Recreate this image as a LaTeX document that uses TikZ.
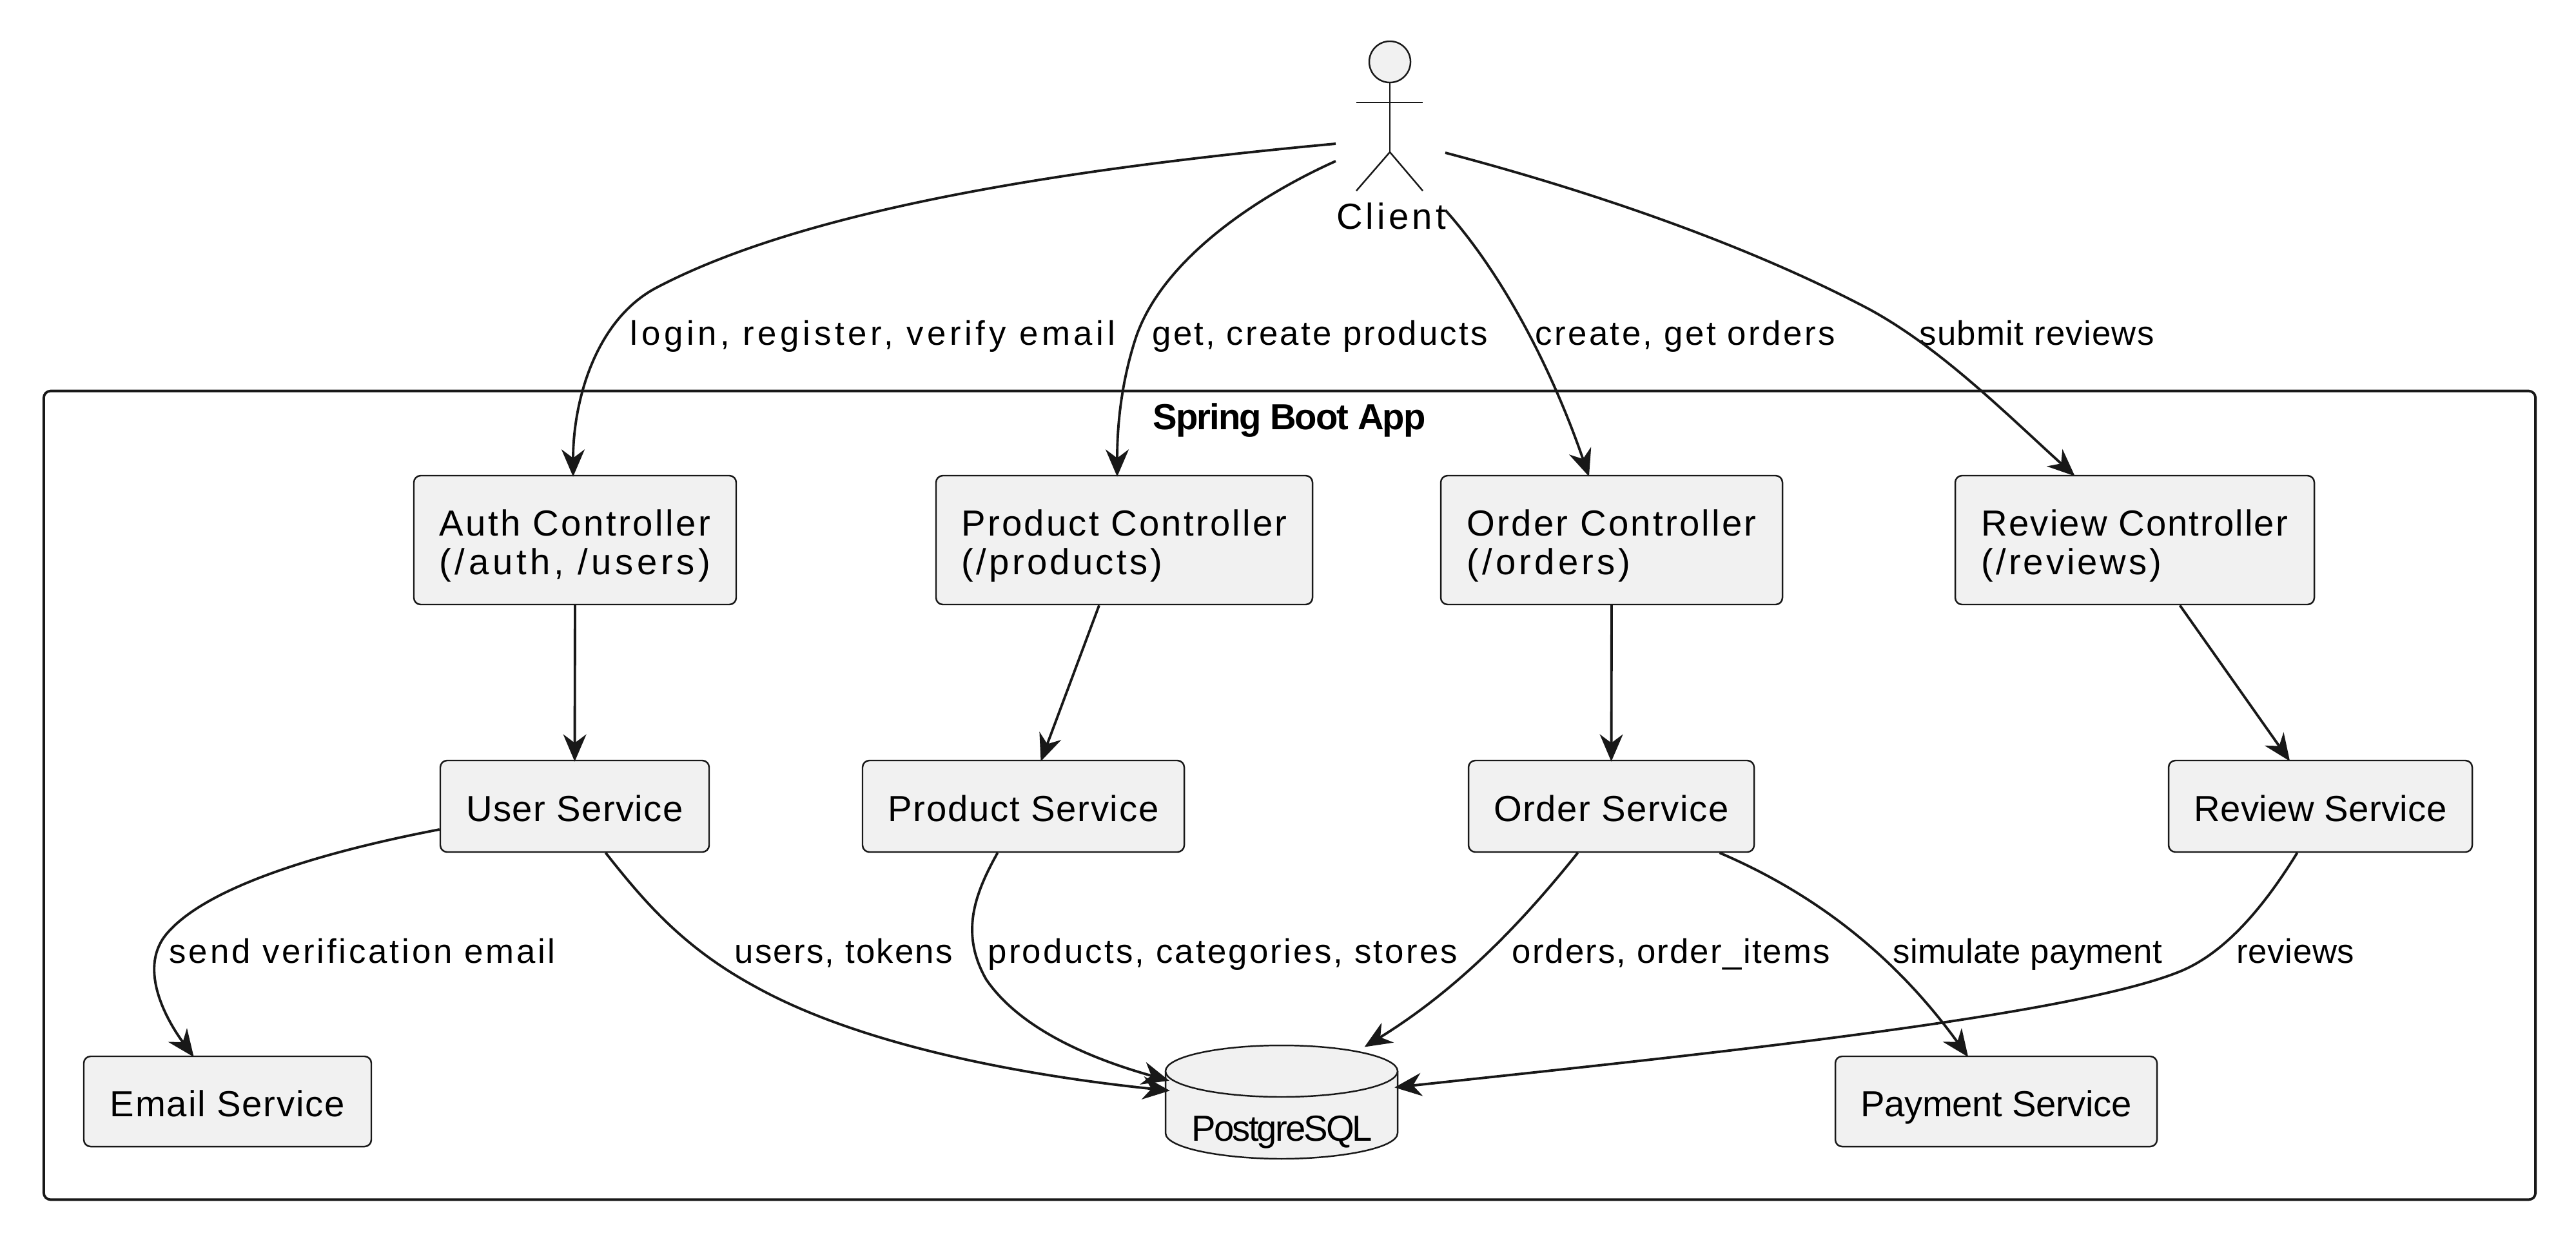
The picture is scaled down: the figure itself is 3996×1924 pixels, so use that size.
\documentclass[tikz,border=0pt]{standalone}
\usepackage{fontspec}
\setmainfont{Liberation Sans}
\usetikzlibrary{arrows.meta,calc}
\definecolor{ink}{HTML}{181818}
\definecolor{boxfill}{HTML}{F1F1F1}
\newcommand{\ls}[2]{{\addfontfeature{LetterSpace=#1}\rule[-1.6pt]{0pt}{16.6pt}\smash{#2}}}
\tikzset{
  >={Stealth[length=12pt,width=10.2pt,inset=3.8pt]},
  part/.style={draw=ink, fill=boxfill, line width=0.7pt, rounded corners=3pt, inner sep=0pt, align=left,
               font=\fontsize{16}{17.2}\selectfont},
  flow/.style={->, line width=1.1pt, draw=ink, shorten >=-0.8pt},
  lab/.style={font=\fontsize{15}{18}\selectfont, text=black, inner sep=0pt, anchor=base west},
  actor/.style={draw=ink, line width=0.7pt},
  frame/.style={draw=ink, line width=1.1pt, rounded corners=3pt},
}
\def\appBoxes{auth/892/838/500/200/{\ls{6.2}{Auth Controller}\\\ls{10.1}{(/auth, /users)}},
  prodctl/1744/838/584/200/{\ls{5.7}{Product Controller}\\\ls{7.6}{(/products)}},
  orderctl/2500/838/530/200/{\ls{5.8}{Order Controller}\\\ls{9.2}{(/orders)}},
  reviewctl/3311.5/838/557/200/{\ls{3.7}{Review Controller}\\\ls{7}{(/reviews)}},
  user/891.5/1251/417/142/{\ls{2.6}{User Service}},
  prodsrv/1587.5/1251/499/142/{\ls{3.1}{Product Service}},
  ordersrv/2499.5/1251/443/142/{\ls{2.8}{Order Service}},
  reviewsrv/3599.5/1251/471/142/{\ls{0.6}{Review Service}},
  email/353/1709/446/140/{\ls{3.3}{Email Service}},
  payment/3096.5/1709/499/140/{\ls{-0.6}{Payment Service}}}
\def\edgeLabels{977/535/10.8/{login, register, verify email},
  1787/535/6.0/{get, create products},
  2381/535/6.5/{create, get orders},
  2977/535/2.4/{submit reviews},
  262/1494/7.3/{send verification email},
  1139/1494/4.2/{users, tokens},
  1532/1494/6.1/{products, categories, stores},
  2345/1494/4.0/{orders, order\_items},
  2936/1494/0.5/{simulate payment},
  3469/1494/1.2/{reviews}}

\begin{document}
\begin{tikzpicture}[x=0.01cm, y=-0.01cm]
  \useasboundingbox (0,0) rectangle (3996,1924);
  \node[frame, minimum width=38.63cm, minimum height=12.54cm] (app) at (2000.5,1234) {};
  \node[font=\bfseries\fontsize{16}{18}\selectfont, anchor=base] (apptitle) at (2000,666) {\ls{-3.6}{Spring Boot App}};

  % actor
  \node[actor, circle, fill=boxfill, minimum size=0.64cm, inner sep=0pt] (head) at (2156,96) {};
  \coordinate (hip) at (2156,236);
  \draw[actor] (head.south) -- (hip);
  \draw[actor] (2104,159) -- (2207,159);
  \draw[actor] (2104,296) -- (hip) -- (2207,296);
  \node[font=\fontsize{16}{18}\selectfont, anchor=base, inner sep=0pt] (client) at (2158,355) {\ls{9.2}{Client}};

  % database
  \draw[actor, fill=boxfill] (1808,1662) -- (1808,1758) .. controls (1808,1782) and (1900,1798) .. (1988,1798)
    .. controls (2076,1798) and (2168,1782) .. (2168,1758) -- (2168,1662);
  \draw[actor, fill=boxfill] (1988,1662) ellipse [x radius=180, y radius=40];
  \node[font=\fontsize{16}{18}\selectfont, anchor=base, inner sep=0pt] (db) at (1989,1770) {\ls{-5.2}{PostgreSQL}};
  \coordinate (dbleftA) at (1811,1676);
  \coordinate (dbleftB) at (1812,1692);
  \coordinate (dbtop) at (2119,1623);
  \coordinate (dbright) at (2166,1687);

  \foreach \n/\x/\y/\w/\h/\t in \appBoxes {
    \node[part, minimum width=\w*0.01cm, minimum height=\h*0.01cm] (\n) at (\x,\y) {\t};
  }
  \foreach \x/\y/\s/\t in \edgeLabels {
    \node[lab] at (\x,\y) {\ls{\s}{\t}};
  }

  % client to controllers
  \coordinate (clientA) at (2072,223);
  \coordinate (clientB) at (2072,250);
  \coordinate (clientC) at (2242,326);
  \coordinate (clientD) at (2242,237);
  \draw[flow] (clientA) .. controls (1650,262) and (1250,325) .. (1019,446)
    .. controls (925,495) and (889,620) .. ($(auth.north)+(-3,0)$);
  \draw[flow] (clientB) .. controls (1960,300) and (1800,400) .. (1760,530)
    .. controls (1735,610) and (1733,680) .. ($(prodctl.north)+(-11,0)$);
  \draw[flow] (clientC) .. controls (2335,430) and (2410,580) .. ($(orderctl.north)+(-36,0)$);
  \draw[flow] (clientD) .. controls (2500,305) and (2730,390) .. (2900,480)
    .. controls (3010,540) and (3110,640) .. ($(reviewctl.north)+(-95,0)$);

  % controllers to services
  \draw[flow] (auth.south) -- (user.north);
  \draw[flow] ($(prodctl.south)+(-39,0)$) -- ($(prodsrv.north)+(28,0)$);
  \draw[flow] (orderctl.south) -- (ordersrv.north);
  \draw[flow] ($(reviewctl.south)+(70,0)$) -- ($(reviewsrv.north)+(-49,0)$);

  % services
  \draw[flow] ($(user.west)+(0,36)$) .. controls (520,1318) and (330,1370) .. (262,1445)
    .. controls (210,1500) and (260,1585) .. ($(email.north)+(-54,0)$);
  \draw[flow] ($(user.south)+(48,0)$) .. controls (1000,1400) and (1060,1470) .. (1170,1530)
    .. controls (1340,1625) and (1600,1670) .. (dbleftB);
  \draw[flow] ($(prodsrv.south)+(-40,0)$) .. controls (1510,1390) and (1490,1450) .. (1530,1520)
    .. controls (1585,1600) and (1700,1645) .. (dbleftA);
  \draw[flow] ($(ordersrv.south)+(-52,0)$) .. controls (2370,1420) and (2270,1530) .. (dbtop);
  \draw[flow] ($(ordersrv.south)+(168,0)$) .. controls (2800,1380) and (2930,1470) .. ($(payment.north)+(-45,0)$);
  \draw[flow] ($(reviewsrv.south)+(-36,0)$) .. controls (3510,1410) and (3450,1480) .. (3380,1508)
    .. controls (3200,1580) and (2600,1640) .. (dbright);
\end{tikzpicture}
\end{document}
